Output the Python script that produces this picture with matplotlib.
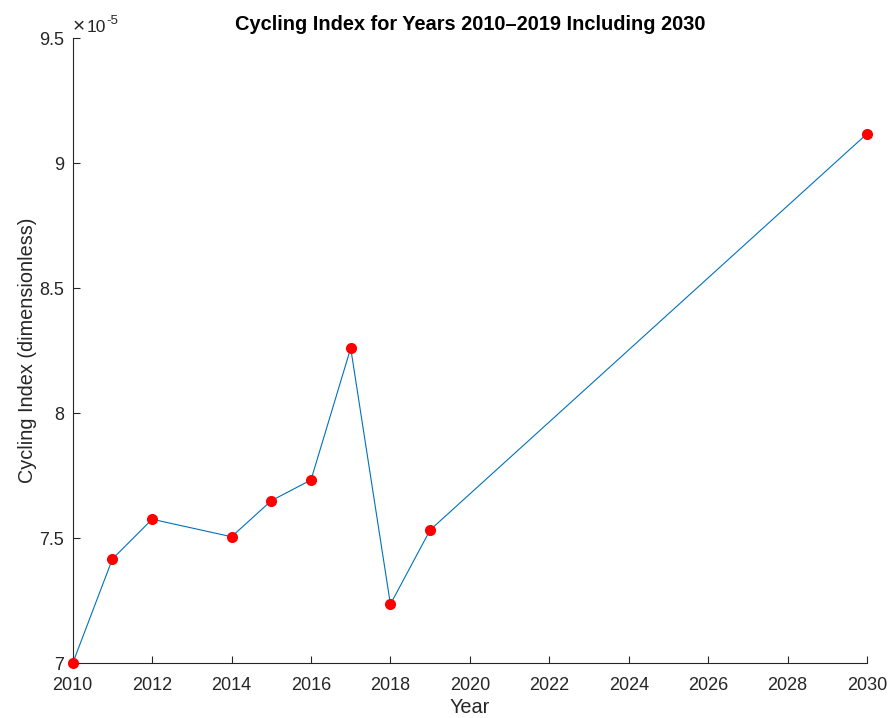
import matplotlib
matplotlib.use("Agg")
import matplotlib.pyplot as plt
from matplotlib.ticker import FuncFormatter

# cycling index values (dimensionless)
years = [2010, 2011, 2012, 2014, 2015, 2016, 2017, 2018, 2019, 2030]
cycling_index = [7.00e-5, 7.417e-5, 7.576e-5, 7.506e-5, 7.65e-5,
                 7.733e-5, 8.26e-5, 7.236e-5, 7.533e-5, 9.117e-5]
x_ticks = list(range(2010, 2031, 2))
y_ticks = [7.0e-5, 7.5e-5, 8.0e-5, 8.5e-5, 9.0e-5, 9.5e-5]

plt.rcParams['font.family'] = ['Liberation Sans', 'DejaVu Sans']

fig = plt.figure(figsize=(8.88, 7.18), dpi=100)
ax = fig.add_axes([72.7 / 888, 1 - 663.3 / 718, (867 - 72.7) / 888, (663.3 - 38) / 718])

ax.plot(years, cycling_index, color='#0072BD', linewidth=0.8, zorder=2)
ax.plot(years, cycling_index, 'o', color='red', markersize=8,
        markeredgewidth=0, zorder=3, clip_on=False)

ax.set_xlim(2010, 2030)
ax.set_ylim(7.0e-5, 9.5e-5)
ax.set_xticks(x_ticks)
ax.set_yticks(y_ticks)
ax.yaxis.set_major_formatter(FuncFormatter(lambda v, p: '%g' % round(v * 1e5, 3)))

for side in ['top', 'right']:
    ax.spines[side].set_visible(False)
for side in ['left', 'bottom']:
    ax.spines[side].set_color('#262626')
    ax.spines[side].set_linewidth(0.8)
ax.tick_params(direction='in', length=5, width=0.8, colors='#262626', labelsize=13)
ax.tick_params(axis='x', pad=10)
ax.tick_params(axis='y', pad=6)

# exponent label like MATLAB's
for txt, dx, dy, fs in [('\u00d7', 0, 6, 15), ('10', 14, 6, 12.5), ('-5', 34, 14, 9.5)]:
    ax.annotate(txt, xy=(0, 1), xycoords='axes fraction', xytext=(dx, dy),
                textcoords='offset pixels', fontsize=fs, color='#262626',
                ha='left', va='baseline')

ax.set_title('Cycling Index for Years 2010\u20132019 Including 2030',
             fontsize=14.4, fontweight='bold', pad=6)
ax.set_xlabel('Year', fontsize=14.3, color='#262626', labelpad=3)
ax.set_ylabel('Cycling Index (dimensionless)', fontsize=14.3, color='#262626', labelpad=2)

fig.savefig('out.png', dpi=100)
